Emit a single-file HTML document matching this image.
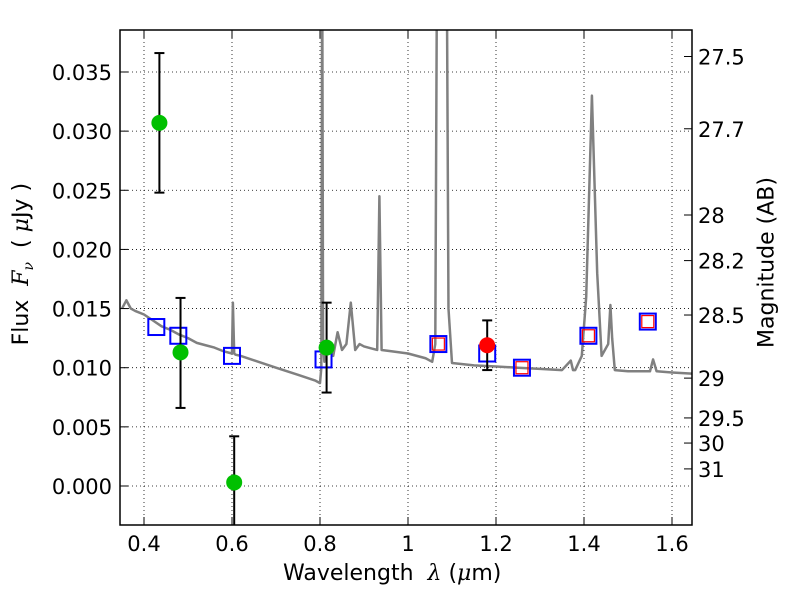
<!DOCTYPE html>
<html><head><meta charset="utf-8"><style>body{margin:0;background:#fff}svg text{font-family:"DejaVu Sans","Liberation Sans",sans-serif}</style></head>
<body>
<svg id="c" width="800" height="600"></svg>
<script>
const specLam=[0.35,0.36,0.37,0.38,0.40,0.42,0.44,0.46,0.48,0.50,0.52,0.54,0.56,0.58,0.60,0.602,0.605,0.608,0.62,0.66,0.70,0.75,0.79,0.80,0.803,0.805,0.807,0.81,0.82,0.83,0.84,0.85,0.86,0.87,0.88,0.89,0.90,0.92,0.93,0.935,0.94,0.96,1.00,1.04,1.055,1.062,1.066,1.076,1.088,1.092,1.10,1.15,1.20,1.25,1.30,1.35,1.37,1.375,1.38,1.395,1.405,1.418,1.43,1.44,1.455,1.46,1.464,1.47,1.50,1.54,1.55,1.557,1.565,1.60,1.645];
const specFlux=[0.0150,0.0157,0.0150,0.0148,0.0145,0.0140,0.0135,0.0132,0.0128,0.0125,0.0121,0.0119,0.0117,0.0114,0.0112,0.0155,0.0112,0.0111,0.0110,0.0105,0.0100,0.0094,0.0089,0.0087,0.0100,0.045,0.0120,0.0105,0.0120,0.0110,0.0130,0.0115,0.0120,0.0155,0.0115,0.0120,0.0118,0.0116,0.0115,0.0245,0.0115,0.0114,0.0112,0.0108,0.0105,0.0120,0.045,0.045,0.045,0.0150,0.0104,0.0102,0.0101,0.0100,0.0099,0.0098,0.0106,0.0098,0.0098,0.0110,0.0160,0.0330,0.0180,0.0110,0.0120,0.0153,0.0125,0.0098,0.0097,0.0097,0.0097,0.0107,0.0097,0.0096,0.0095];
const greenLam=[0.435,0.483,0.605,0.815];
const greenFlux=[0.0307,0.0113,0.0003,0.0117];
const greenLo=[0.0248,0.0066,-0.0040,0.0079];
const greenHi=[0.0366,0.0159,0.0042,0.0155];
const redLam=[1.18], redFlux=[0.0119], redLo=[0.0098], redHi=[0.0140];
const boxLam=[0.428,0.478,0.600,0.808,1.069,1.180,1.259,1.410,1.545];
const boxFlux=[0.01344,0.0127,0.0110,0.0107,0.0120,0.0112,0.0100,0.0127,0.0139];
const modelLam=[1.069,1.259,1.410,1.545];
const modelFlux=[0.0120,0.0100,0.0127,0.0139];
const xTicks=[0.4,0.6,0.8,1.0,1.2,1.4,1.6];
const xTickLabels=["0.4","0.6","0.8","1","1.2","1.4","1.6"];
const yTicks=[0,0.005,0.010,0.015,0.020,0.025,0.030,0.035];
const yTickLabels=["0.000","0.005","0.010","0.015","0.020","0.025","0.030","0.035"];
const magTicks=[27.5,27.7,28,28.2,28.5,29,29.5,30,31];
const magLabels=["27.5","27.7","28","28.2","28.5","29","29.5","30","31"];

const L=120,R=692,T=30,B=525;
const X=l=>144+(l-0.4)*440;
const Y=f=>486-f*11829;
const magY=m=>Y(Math.pow(10,(23.9-m)/2.5));
const svg=document.getElementById('c');
const NS='http://www.w3.org/2000/svg';
function mk(tag,at,parent){const e=document.createElementNS(NS,tag);for(const k in at)e.setAttribute(k,at[k]);(parent||svg).appendChild(e);return e;}
const defs=mk('defs',{});const cp=mk('clipPath',{id:'pc'},defs);mk('rect',{x:L,y:T,width:R-L,height:B-T},cp);
const grid=mk('g',{});


xTicks.forEach(v=>mk('line',{x1:X(v),x2:X(v),y1:T,y2:B,stroke:'#000','stroke-width':0.8,'stroke-dasharray':'1,3'},grid));
yTicks.forEach(v=>mk('line',{x1:L,x2:R,y1:Y(v),y2:Y(v),stroke:'#000','stroke-width':0.8,'stroke-dasharray':'1,3'},grid));
const plot=mk('g',{'clip-path':'url(#pc)'});
const sp=mk('polyline',{points:specLam.map((l,i)=>X(l)+','+Y(specFlux[i])).join(' '),fill:'none',stroke:'#808080','stroke-width':2.5,'stroke-linejoin':'round'},plot);


boxLam.forEach((l,i)=>{const r=mk('rect',{x:X(l)-8,y:Y(boxFlux[i])-8,width:16,height:16,fill:'none',stroke:'#0000ff','stroke-width':2},plot);

});
modelLam.forEach((l,i)=>{const r=mk('rect',{x:X(l)-6,y:Y(modelFlux[i])-6,width:12,height:12,fill:'none',stroke:'#ff0000','stroke-width':1.2},plot);

});
function pts(lam,fl,lo,hi,col,name){lam.forEach((l,i)=>{const g=mk('g',{},plot);


const x=X(l);mk('line',{x1:x,x2:x,y1:Y(lo[i]),y2:Y(hi[i]),stroke:'#000','stroke-width':2},g);
mk('line',{x1:x-5,x2:x+5,y1:Y(lo[i]),y2:Y(lo[i]),stroke:'#000','stroke-width':2},g);
mk('line',{x1:x-5,x2:x+5,y1:Y(hi[i]),y2:Y(hi[i]),stroke:'#000','stroke-width':2},g);
mk('circle',{cx:x,cy:Y(fl[i]),r:8,fill:col},g);});}
pts(greenLam,greenFlux,greenLo,greenHi,'#00c000','observed-point');
pts(redLam,redFlux,redLo,redHi,'#ff0000','highlight-point');
const ax=mk('g',{});


mk('rect',{x:L,y:T,width:R-L,height:B-T,fill:'none',stroke:'#000','stroke-width':1.5},ax);
xTicks.forEach((v,i)=>{mk('line',{x1:X(v),x2:X(v),y1:B,y2:B-8,stroke:'#000'},ax);mk('line',{x1:X(v),x2:X(v),y1:T,y2:T+8,stroke:'#000'},ax);
const t=mk('text',{x:X(v),y:B+26,'font-size':21,'text-anchor':'middle'},ax);t.textContent=xTickLabels[i];});
yTicks.forEach((v,i)=>{mk('line',{x1:L,x2:L+8,y1:Y(v),y2:Y(v),stroke:'#000'},ax);
const t=mk('text',{x:L-8,y:Y(v)+8,'font-size':21,'text-anchor':'end'},ax);t.textContent=yTickLabels[i];});
magTicks.forEach((m,i)=>{const y=magY(m);mk('line',{x1:R,x2:R-8,y1:y,y2:y,stroke:'#000'},ax);
const t=mk('text',{x:R+6,y:y+8,'font-size':21},ax);t.textContent=magLabels[i];});
</script>
<div style="position:absolute;left:283px;top:561px;font:22px 'DejaVu Sans',sans-serif">Wavelength&nbsp; <i style="font-family:'DejaVu Serif',serif">λ</i> (<i style="font-family:'DejaVu Serif',serif">μ</i>m)</div>
<div style="position:absolute;left:-72px;top:250px;width:190px;text-align:center;transform:rotate(-90deg);font:22px 'DejaVu Sans',sans-serif;white-space:nowrap">Flux&nbsp; <i style="font-family:'DejaVu Serif',serif">F<sub style="font-size:14px">ν</sub></i>&nbsp; ( <i style="font-family:'DejaVu Serif',serif">μ</i>Jy )</div>
<div style="position:absolute;left:672px;top:250px;width:190px;text-align:center;transform:rotate(-90deg);font:22px 'DejaVu Sans',sans-serif;white-space:nowrap">Magnitude (AB)</div>
</body></html>
